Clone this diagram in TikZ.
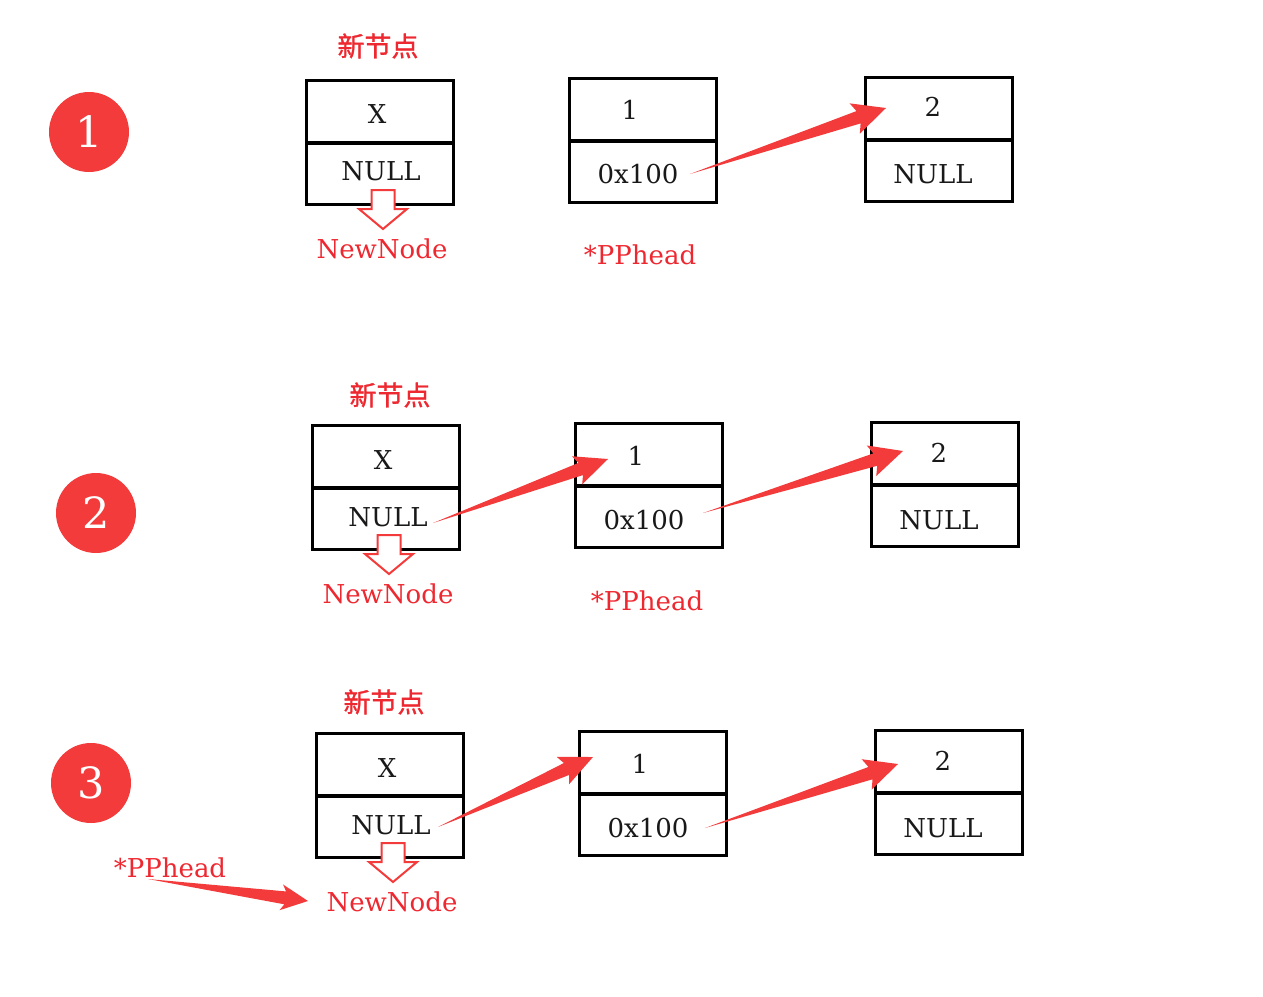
\documentclass[tikz,border=0pt]{standalone}
\usepackage{fontspec}
\setmainfont{DejaVu Serif}
\newfontfamily\cjk[FakeBold=1.2]{Noto Sans CJK SC}
\usetikzlibrary{calc}
\definecolor{myred}{RGB}{243,59,59}
\definecolor{txtred}{RGB}{238,40,48}
\newcommand{\taper}[4]{% tail, tip, head length, head half width
  \path ($(#2)!#3!(#1)$) coordinate (tmpH) ($(#2)!#3+4pt!(#1)$) coordinate (tmpB);
  \fill[myred] (#1) -- ($(tmpH)!6.5pt!90:(#2)$) -- ($(tmpB)!#4!90:(#2)$) -- (#2)
     -- ($(tmpB)!#4!-90:(#2)$) -- ($(tmpH)!6.5pt!-90:(#2)$) -- cycle;}
\newcommand{\hollow}[1]{%
  \draw[myred,line width=2pt,fill=white,line join=miter] (#1) ++(-11.5,0) -- ++(0,19) -- ++(-12.5,0)
     -- ++(24,20) -- ++(24,-20) -- ++(-12.5,0) -- ++(0,-19) -- cycle;}
\begin{document}
\begin{tikzpicture}[x=1pt,y=-1pt,
  cell/.style={draw=black,line width=3pt,minimum width=147pt,minimum height=62pt,inner sep=0pt,outer sep=0pt,anchor=north west},
  cellb/.style={cell,minimum height=61pt},
  val/.style={font=\fontsize{26}{30}\selectfont,text=black!90},
  lab/.style={font=\fontsize{26}{30}\selectfont,text=txtred},
  cn/.style={font=\cjk\fontsize{27}{30}\selectfont,text=txtred},
  num/.style={circle,fill=myred,minimum size=80pt,inner sep=0pt,text=white,font=\fontsize{43}{46}\selectfont}]
\useasboundingbox (0,0) rectangle (1263,996);
% ---------- Row 1
\node[num] (c1) at (89,132) {1};
\node[cn] (n1) at (378,46) {新节点};
\node[cell] (a1t) at (306,80) {};
\node[cellb] (a1b) at (306,143) {};
\node[val] at (377,114) {X};
\node[val] at (381,171) {NULL};
\coordinate (h1) at (383,190);
\hollow{h1}
\node[lab] (nn1) at (382,249) {NewNode};
\node[cell] (b1t) at (569,78) {};
\node[cellb] (b1b) at (569,141) {};
\node[val] at (630,110) {1};
\node[val] at (638,174) {0x100};
\node[lab] (pp1) at (640,255) {*PPhead};
\node[cell] (d1t) at (865,77) {};
\node[cellb] (d1b) at (865,140) {};
\node[val] at (933,107) {2};
\node[val] at (933,174) {NULL};
\coordinate (t1a) at (690,174);
\coordinate (e1a) at (886,108);
\taper{t1a}{e1a}{29pt}{16pt}
% ---------- Row 2
\node[num] (c2) at (96,513) {2};
\node[cn] (n2) at (390,395) {新节点};
\node[cell] (a2t) at (312,425) {};
\node[cellb] (a2b) at (312,488) {};
\node[val] at (383,460) {X};
\node[val] at (388,517) {NULL};
\coordinate (h2) at (389,535);
\hollow{h2}
\node[lab] (nn2) at (388,594) {NewNode};
\node[cell] (b2t) at (575,423) {};
\node[cellb] (b2b) at (575,486) {};
\node[val] at (636,456) {1};
\node[val] at (644,520) {0x100};
\node[lab] (pp2) at (647,601) {*PPhead};
\node[cell] (d2t) at (871,422) {};
\node[cellb] (d2b) at (871,485) {};
\node[val] at (939,453) {2};
\node[val] at (939,520) {NULL};
\coordinate (t2a) at (433,523);
\coordinate (e2a) at (608,459);
\taper{t2a}{e2a}{29pt}{15pt}
\coordinate (t2b) at (703,513);
\coordinate (e2b) at (903,451);
\taper{t2b}{e2b}{29pt}{16pt}
% ---------- Row 3
\node[num] (c3) at (91,783) {3};
\node[cn] (n3) at (384,702) {新节点};
\node[cell] (a3t) at (316,733) {};
\node[cellb] (a3b) at (316,796) {};
\node[val] at (387,768) {X};
\node[val] at (391,825) {NULL};
\coordinate (h3) at (393,843);
\hollow{h3}
\node[lab] (nn3) at (392,902) {NewNode};
\node[cell] (b3t) at (579,731) {};
\node[cellb] (b3b) at (579,794) {};
\node[val] at (640,764) {1};
\node[val] at (648,828) {0x100};
\node[cell] (d3t) at (875,730) {};
\node[cellb] (d3b) at (875,793) {};
\node[val] at (943,761) {2};
\node[val] at (943,828) {NULL};
\coordinate (t3a) at (438,827);
\coordinate (e3a) at (593,757);
\taper{t3a}{e3a}{29pt}{15pt}
\coordinate (t3b) at (705,828);
\coordinate (e3b) at (898,764);
\taper{t3b}{e3b}{29pt}{16pt}
\node[lab] (pp3) at (170,868) {*PPhead};
\coordinate (t3c) at (148,879);
\coordinate (e3c) at (308,901);
\taper{t3c}{e3c}{23pt}{13pt}
\end{tikzpicture}
\end{document}
